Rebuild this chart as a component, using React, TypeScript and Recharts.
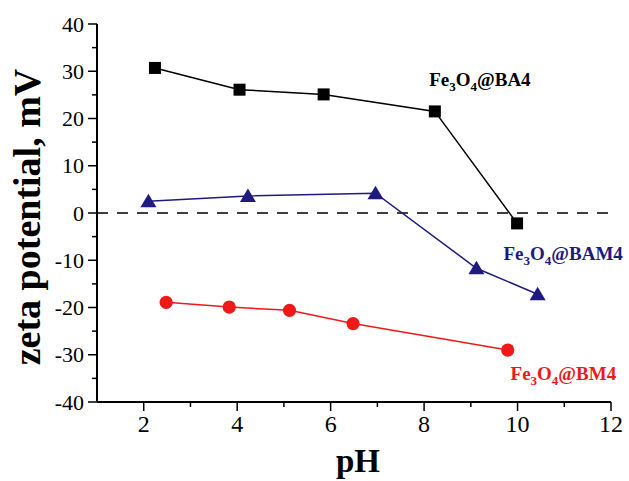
import React from "react";
import {
  LineChart,
  Line,
  XAxis,
  YAxis,
  ReferenceLine,
  ReferenceDot,
} from "recharts";

// zeta potential (mV) vs pH for the three samples
const ba4PH = [2.24, 4.05, 5.85, 8.23, 9.99];
const ba4Zeta = [30.7, 26.1, 25.1, 21.5, -2.2];

const bam4PH = [2.1, 4.23, 6.96, 9.12, 10.43];
const bam4Zeta = [2.5, 3.6, 4.2, -11.7, -17.2];

const bm4PH = [2.48, 3.83, 5.12, 6.48, 9.79];
const bm4Zeta = [-18.9, -19.9, -20.6, -23.4, -29.0];

const xTicks = [1, 2, 3, 4, 5, 6, 7, 8, 9, 10, 11, 12];
const yTicks = [-40, -35, -30, -25, -20, -15, -10, -5, 0, 5, 10, 15, 20, 25, 30, 35, 40];

const FONT = "'Liberation Serif', 'Times New Roman', serif";
const NAVY = "#1E1A80";
const RED = "#F01818";

const toRows = (xs: number[], ys: number[]) => xs.map((pH, i) => ({ pH, v: ys[i] }));

const ba4 = toRows(ba4PH, ba4Zeta);
const bam4 = toRows(bam4PH, bam4Zeta);
const bm4 = toRows(bm4PH, bm4Zeta);

const XTick = (props: any) => {
  const { x, y, payload } = props;
  const v = payload.value;
  const major = v % 2 === 0;
  return (
    <g>
      {v !== 1 && (
        <line x1={x} x2={x} y1={y} y2={y + (major ? 9 : 5)} stroke="#000" strokeWidth={1.5} />
      )}
      {major && (
        <text x={x} y={y + 30} textAnchor="middle" fontSize={24} fontFamily={FONT} fill="#000">
          {v}
        </text>
      )}
    </g>
  );
};

const YTick = (props: any) => {
  const { x, y, payload } = props;
  const v = payload.value;
  const major = v % 10 === 0;
  return (
    <g>
      <line x1={x} x2={x - (major ? 9 : 5)} y1={y} y2={y} stroke="#000" strokeWidth={1.5} />
      {major && (
        <text x={x - 13} y={y + 7.5} textAnchor="end" fontSize={22} fontFamily={FONT} fill="#000">
          {v}
        </text>
      )}
    </g>
  );
};

const squareDot = (p: any) => (
  <rect key={`s${p.index}`} x={p.cx - 6} y={p.cy - 6} width={12} height={12} fill="#000" />
);
const triangleDot = (p: any) => (
  <polygon
    key={`t${p.index}`}
    points={`${p.cx},${p.cy - 7.5} ${p.cx - 8},${p.cy + 6} ${p.cx + 8},${p.cy + 6}`}
    fill={NAVY}
  />
);
const circleDot = (p: any) => <circle key={`c${p.index}`} cx={p.cx} cy={p.cy} r={6.6} fill={RED} />;

const seriesLabel = (name: string, color: string) => (props: any) => {
  const { viewBox } = props;
  return (
    <text
      x={viewBox.x}
      y={viewBox.y}
      fontSize={19}
      fontWeight="bold"
      fontFamily={FONT}
      fill={color}
    >
      Fe
      <tspan fontSize={13} dy={5}>3</tspan>
      <tspan dy={-5}>O</tspan>
      <tspan fontSize={13} dy={5}>4</tspan>
      <tspan dy={-5}>{name}</tspan>
    </text>
  );
};

export default function App() {
  return (
    <div style={{ position: "absolute", left: 0, top: 0, width: 629, height: 481, background: "#fff" }}>
      <LineChart width={629} height={481} margin={{ top: 24, right: 18, left: 0, bottom: 0 }}>
        <XAxis
          type="number"
          dataKey="pH"
          domain={[1, 12]}
          ticks={xTicks}
          interval={0}
          allowDataOverflow
          height={79}
          tickSize={0}
          tickMargin={0}
          tickLine={false}
          axisLine={{ stroke: "#000", strokeWidth: 2 }}
          tick={<XTick />}
          label={{
            content: (p: any) => (
              <text
                x={p.viewBox.x + p.viewBox.width / 2 + 4}
                y={p.viewBox.y + 70}
                textAnchor="middle"
                fontSize={33}
                fontWeight="bold"
                fontFamily={FONT}
                fill="#000"
              >
                pH
              </text>
            ),
          }}
        />
        <YAxis
          type="number"
          domain={[-40, 40]}
          ticks={yTicks}
          interval={0}
          allowDataOverflow
          width={97}
          tickSize={0}
          tickMargin={0}
          tickLine={false}
          axisLine={{ stroke: "#000", strokeWidth: 2 }}
          tick={<YTick />}
          label={{
            content: () => (
              <text
                x={40}
                y={217}
                transform="rotate(-90, 40, 217)"
                textAnchor="middle"
                fontSize={38}
                fontWeight="bold"
                fontFamily={FONT}
                fill="#000"
              >
                zeta potential, mV
              </text>
            ),
          }}
        />
        <ReferenceLine y={0} stroke="#000" strokeWidth={1.6} strokeDasharray="11 9" />
        <Line
          data={ba4}
          dataKey="v"
          stroke="#000"
          strokeWidth={1.5}
          dot={squareDot}
          activeDot={false}
          isAnimationActive={false}
        />
        <Line
          data={bam4}
          dataKey="v"
          stroke={NAVY}
          strokeWidth={1.5}
          dot={triangleDot}
          activeDot={false}
          isAnimationActive={false}
        />
        <Line
          data={bm4}
          dataKey="v"
          stroke={RED}
          strokeWidth={1.5}
          dot={circleDot}
          activeDot={false}
          isAnimationActive={false}
        />
        <ReferenceDot x={8.11} y={26.8} r={0} fill="none" stroke="none" label={{ content: seriesLabel("@BA4", "#000") }} />
        <ReferenceDot x={9.7} y={-10.0} r={0} fill="none" stroke="none" label={{ content: seriesLabel("@BAM4", NAVY) }} />
        <ReferenceDot x={9.85} y={-35.4} r={0} fill="none" stroke="none" label={{ content: seriesLabel("@BM4", RED) }} />
      </LineChart>
    </div>
  );
}
